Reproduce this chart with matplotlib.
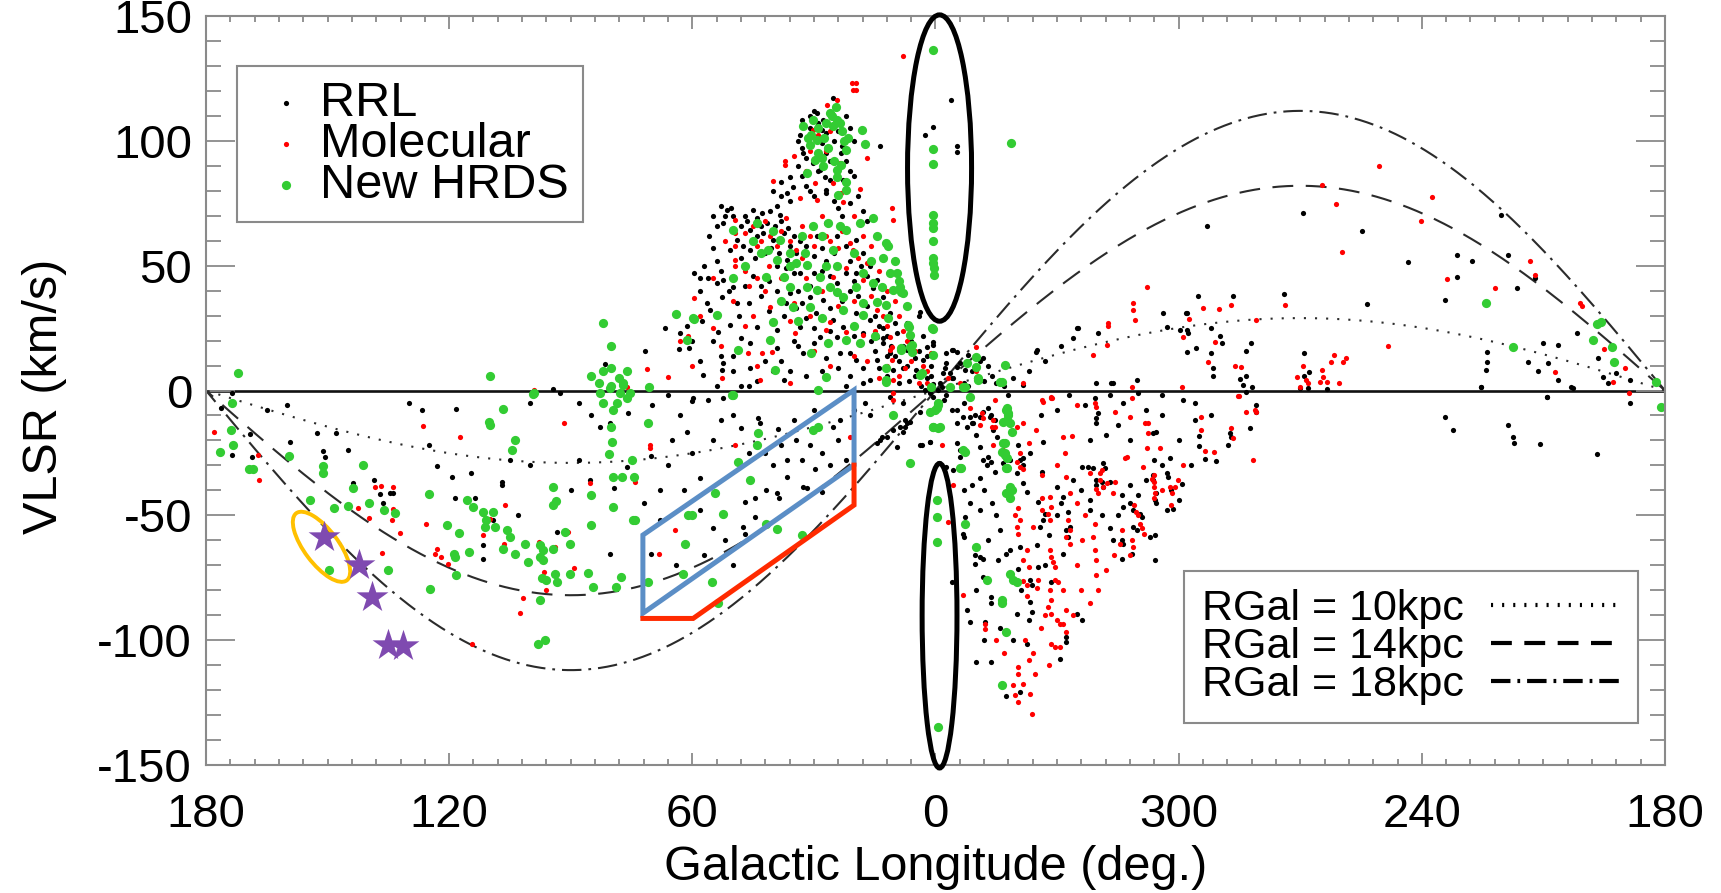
import numpy as np
import matplotlib
matplotlib.use('Agg')
import matplotlib.pyplot as plt
from matplotlib.patches import Ellipse, Polygon
from matplotlib.lines import Line2D
from matplotlib.transforms import ScaledTranslation

plt.rcParams['font.family'] = ['Liberation Sans', 'DejaVu Sans']
plt.rcParams['lines.scale_dashes'] = False
plt.rcParams['axes.unicode_minus'] = False

# points as (galactic longitude [deg], VLSR [km/s])
rrl_pts = [
    (94.3, 0.6), (92.7, -1), (81.6, 10.5), (71.7, 15.7), (66.8, 25.1), (59.6, 47), (63.0, 23), (61.3, 26),
    (63.2, 16.6), (60.8, 17.2), (356.2, 116.5), (0.7, 105.4), (2.6, 102.5), (354.8, 98), (354.8, 95.4),
    (25.2, 117), (24.4, 113), (33, 108.5), (33.4, 102.5), (31, 109.8), (29.3, 111.1), (27.7, 108.5),
    (28.1, 104.5), (26.9, 103.1), (32.6, 95.1), (30.2, 91.1), (28.5, 88.4), (27.3, 85.7), (26, 84.4),
    (35.9, 85.7), (35.1, 81.7), (38, 83.7), (36.7, 79), (13.7, 98), (23.2, 95.1), (22.8, 84.4), (26.9, 80.4),
    (56.1, 45), (54, 43), (52.4, 44.3), (49.9, 41.6), (52.8, 37.6), (56.5, 35), (55.6, 32.3), (50.7, 26.3),
    (53.6, 23.6), (45.8, 18.9), (52.4, 10.9), (52.8, 8.2), (57.3, 6.2), (45.8, 8.9), (37.5, 4.2), (16.2, 4.2),
    (32.6, 14.9), (23.6, 14.9), (19.5, 12.2), (14.5, 12.2), (11.2, 14.9), (10.4, 8.2), (8, 8.9), (4.7, 8.2),
    (3, 12.2), (0.5, 19.6), (357.3, 14.9), (355.6, 16.2), (354.8, 9.6), (358.1, 6.9), (338.3, 2.2),
    (335.1, 15.6), (325.2, 24.9), (316.1, 2.9), (310.4, 4.2), (303, 25.6), (299.7, 24.2), (298.1, 30.9),
    (303.8, 30.9), (51.5, 72.4), (49.9, 69.7), (45, 72.4), (42.9, 71), (40.8, 71.7), (38.4, 70.4), (52.4, 67),
    (45.8, 64.4), (44.1, 61.7), (42.5, 63), (40, 60.3), (37.5, 63), (35.9, 57.7), (34.3, 55), (45.8, 56.3),
    (49.1, 60.3), (50.7, 56.3), (36.7, 52.3), (39.2, 49.7), (33.4, 47), (29.3, 61.7), (26.9, 67), (24.4, 61.7),
    (19.5, 60.3), (17.8, 55), (16.2, 49.7), (19.5, 47), (24.4, 43), (27.7, 36.3), (31, 37.6), (35.9, 39),
    (14.5, 44.3), (12.9, 37.6), (11.2, 31), (16.2, 28.3), (19.5, 31), (22.8, 25.6), (25.2, 28.3), (28.5, 21.6),
    (33.4, 25.6), (39.2, 24.3), (44.1, 25.6), (14.5, 21.6), (12.9, 18.9), (9.6, 22.9), (7.1, 16.2), (17.8, 22.9),
    (21.1, 14.9), (24.4, 21.6), (53, 74), (52, 70), (50.5, 73), (48, 66), (47, 70), (46.5, 68), (44, 69),
    (43, 66), (41.5, 67), (39.5, 66), (38, 68), (36.5, 65), (35, 62), (33.5, 60), (32, 58), (47.5, 58),
    (48, 53), (44.5, 53), (42, 55), (40.5, 57), (38.5, 55), (37, 49), (35, 47), (31.5, 50), (30, 54), (28, 57),
    (27, 52), (25, 55), (22, 58), (21, 52), (18.5, 50), (17, 46), (15.5, 41), (21, 40), (23, 36), (26, 33),
    (29.5, 31), (32, 29), (34.5, 33), (37.5, 30), (41, 32), (43, 38), (46, 35), (48.5, 30), (58, 40),
    (57.5, 28), (55, 20), (50, 14), (48, 21), (42, 12), (39, 17), (35, 20), (30, 19), (27, 13), (24, 9), (21, 6),
    (18, 9), (15, 16), (13, 25), (10, 27), (9, 12), (6, 20), (5, 13), (6.5, 4), (9, 3), (12, 6), (2, 5), (1, 10),
    (3.5, 2), (359, 3), (357.5, 11), (356, 5), (353, 3), (351, 8), (349, 12), (348, 4), (346, 6), (343, 2),
    (358.5, 1.5), (0.5, 2.5), (7, 27), (4, 30),
    (34, 100), (33, 97), (32, 93), (31, 105), (30, 112), (29, 107), (28, 99), (27, 95), (26, 92), (25, 100),
    (24, 104), (23, 98), (22, 92), (21, 88), (20, 86), (22, 110), (21, 105), (20, 100), (34, 90), (33, 86),
    (32, 82), (31, 80), (30, 78), (29, 88), (27, 79), (25, 76), (24, 73), (23, 70), (21, 75), (19, 78),
    (18, 72), (17, 68), (36, 76), (38, 78), (40, 80), (39, 74),
    (55, 70), (54, 66), (56, 62), (55, 57), (57, 50), (58, 45), (54, 52), (53, 48), (51, 40), (49, 35),
    (47, 42), (45, 46), (43, 42), (41, 44), (39, 40), (37, 35), (36, 42), (34, 40), (33, 35), (31, 42),
    (30, 47), (28, 48), (26, 46), (24, 50), (22, 47), (20, 44), (19, 38), (17, 34), (15, 30), (14, 26),
    (12, 22), (11, 18), (10, 14), (8, 18), (7, 10), (5, 6), (4, 16), (3, 22), (2, 14), (1, 6), (12, 14),
    (16, 20), (20, 22), (26, 24), (30, 25), (34, 18), (38, 12), (40, 8), (44, 4), (48, 2), (54, 2), (58, 12),
    (60, 20), (53, 14), (50, 8), (46, 2), (36, 8), (32, 6), (28, 8), (22, 2), (18, 3), (14, 9), (352, 2),
    (350, 5), (347, 10), (345, 3), (341, 5), (337, 8), (333, 12), (329, 18), (326, 21), (320, 23),
    (293.1, 66), (269.4, 71), (254.7, 64), (243.3, 51.5), (231.4, 54.1), (227.7, 51.8), (231.2, 45.5),
    (234.3, 36.3), (253.6, 34.8), (220.5, 70.1), (218.7, 54.2), (216.6, 41.2), (212.1, 45), (201.6, 22.9),
    (210, 18.9), (206.4, 18.3), (213.8, 11.6), (208.8, 11.2), (211.3, 7.8), (206.5, 4.2), (196.5, 12.9),
    (195.4, 5.3), (194, 2.9), (192, 6.9), (188.7, 4.2), (225.4, 1.5), (224, 15.6), (224, 11.6), (224.2, 8.2),
    (202.8, 1), (209, -2.5), (295.2, 37.9), (286.5, 37.9), (274, 38.8), (298, 31), (298, 24.3), (297.6, 23),
    (298, 15.6), (295.8, 16.9), (291.9, 24.9), (289.8, 22), (289.2, 18.9), (282.2, 18.9), (283.3, 15.8),
    (291.9, 14.9), (291.5, 8.9), (291.5, 5.8), (284.9, 4.5), (283.3, 5.8), (284.2, 2.2), (282, 1.5),
    (269, 14.9), (269.1, 5.8), (267.8, 7.6), (270.1, 0.9), (268, 0.9), (263.5, 0.6),
    (173.7, -1.1), (176.4, -7.2), (169.1, -17.4), (173.7, -25.9), (168.7, -26.8), (159.9, -5.8),
    (159.3, -20.5), (152.7, -17.2), (147.8, -16.9), (151.1, -24.1), (150.6, -26.8), (143.7, -37.2),
    (138.6, -35.9), (137.1, -41.6), (134.6, -41.2), (133.8, -41.2), (136.3, -45), (126.8, -7.8), (118.3, -7.4),
    (123.1, -30.1), (119.4, -34.8), (114.7, -33.2), (118.6, -43), (113.6, -43), (107, -36.6), (107, -37.9),
    (111.6, -49.3), (109.1, -52), (111.6, -62), (111.7, -67.3), (102.9, -49.9), (93.5, -56.6), (85.3, -35.9),
    (82.8, -14.5), (84.9, -9.8), (80.3, -13.2), (75.8, -9.2), (76.2, -30.8), (70.2, -26.3), (79.3, -39.2),
    (80.3, -65.6), (70.1, -65.3), (63, -9.8), (61.3, -16.5), (60, -4.1),
    (60, -25), (58, -35), (55, -20), (53, -12), (50, -10), (48, -15), (46, -25), (42, -25), (40, -30),
    (38, -22), (35, -12), (33, -28), (31, -22), (30, -8), (28, -25), (26, -30), (24, -20), (22, -28), (20, -8),
    (65, -20), (68, -40), (72, -45), (66, -30), (62, -40), (58, -48), (55, -55), (52, -60), (50, -70),
    (57, -66), (64, -70), (68, -52), (88, -28), (90, -40), (100, -30), (105, -28), (125, -22), (145, -24),
    (165, -8), (130, -5), (100, -5), (88, -5), (70, -6), (66, -2),
    (59.8, -3.1), (56.1, -3.8), (52.4, -3.1), (43.7, -11.2), (43.3, -13.2), (38.8, -15.6), (36.7, -27.9),
    (34.3, -19.9), (29.7, -31.6), (36.7, -34.6), (41.7, -39.9), (39.2, -41.2), (38.5, -43.2), (44.5, -43.2),
    (47, -44.6), (44.5, -50.6), (47.4, -54.6), (47, -57.3), (32.6, -38.6), (31.8, -39.2), (28.1, -40.6),
    (25.2, -14.5), (23.6, -11.8), (17.4, -5.2), (16.2, -9.8), (11.2, -2.5), (8, -5.2), (7.1, -13.2),
    (7.5, -14.5), (6.3, -12.5), (3.8, -8.5), (3.8, -21.9), (1.4, -20.5), (14.5, -21.2), (13.7, -19.9),
    (13.3, -18.5), (10.4, -15.8), (354.8, -13.2), (354.8, -21.2), (354, -23.9), (350.7, -13.2), (351.5, -10.5),
    (350.3, -9.8), (348.2, -8.5), (346.6, -10.5), (345.7, -15.8), (344.9, -18.5), (349, -22.5), (348.2, -27.9),
    (346.2, -28.5), (343.3, -29.2), (341.6, -27.9), (339.6, -21.9), (338.3, -27.2), (336.7, -25.2),
    (333.4, -20.5), (355.6, -31.9), (351.5, -45.2), (352.7, -50.6), (353.1, -57.3), (353, -58.6), (356, -76.7),
    (350.3, -66), (350.3, -69.3), (349, -66.6), (348.2, -67.3), (348.2, -74.6), (346.2, -82.7), (346.2, -85.3),
    (352.3, -88), (351.5, -92.7), (347.8, -92.7), (349.9, -108.7), (346.2, -108.7), (342.5, -122.5),
    (339.2, -120.8), (344.5, -68), (342.5, -65.3), (341.6, -64), (339.2, -62.6), (339.6, -71.3), (336.7, -76),
    (336.3, -78), (336.7, -84.7), (340, -89.4), (336.3, -88.7), (337.5, -101.4), (338.3, -37.2),
    (337.5, -40.6), (334.6, -44.6), (333.8, -32.5), (330.1, -38.6), (334.2, -54.6), (334.6, -70.6),
    (331.4, -76.7), (328.5, -65.3), (325.2, -89.4), (323.9, -92), (327.7, -100.7), (329.3, -107.4),
    (327.7, -98.7), (328.5, -42.6), (327.2, -48.6), (326.8, -54.6), (321.9, -43.9), (320.3, -37.9),
    (320.3, -13.2), (320.3, -11.2), (319.8, -9.2), (320.7, -3.1), (323.9, -30.5), (322.3, -30.5),
    (321.1, -31.2), (318.6, -29.2), (318.2, -31.2), (320.3, -35.9), (319, -36.6), (317, -36.6), (318.6, -38.6),
    (313.7, -5.2), (320.3, 2.9), (316.6, 2.9), (313.7, -46.6), (312.1, -45.2), (311.2, -47.9), (309.6, -49.3),
    (309.1, -50.6), (311.2, -54.6), (310.4, -55.9), (314.1, -60), (313.7, -61.3), (316.1, -60), (314.1, -67.3),
    (311.6, -65.3), (307.1, -58.6), (305.9, -58), (306.3, -33.9), (306.3, -35.9), (305.5, -41.2),
    (305.9, -43.9), (305.5, -45.2), (303, -33.2), (302.6, -34.6), (302.2, -27.2), (301.3, -47.3),
    (305.5, -16.5), (306.3, -17.2), (305.9, -68), (327.7, -55.9), (327.2, -58.6), (333.4, -52), (333, -49.3),
    (358, -4), (356, -8), (353, -5), (350, -18), (349, -35), (348, -40), (346, -45), (345, -50), (344, -56),
    (347, -60), (349, -48), (351, -38), (353, -40), (350, -80), (348, -100), (344, -95), (341, -100),
    (339, -80), (337, -92), (335, -62), (333, -70), (332, -58), (330, -50), (329, -45), (326, -36), (324, -40),
    (322, -48), (319, -50), (317, -55), (315, -50), (314, -42), (312, -38), (310, -42), (308, -36), (306, -28),
    (304, -30), (302, -40), (300, -44), (303, -48), (322, -20), (318, -18), (315, -14), (312, -20), (308, -8),
    (304, -10), (300, -20), (297, -30), (296, -12), (330, -8), (334, -10), (342, -2), (327, -2), (323, -6),
    (317, -2), (310, -1), (304, -2), (299, -4), (296, -5), (292, -10),
    (3.8, 31.6), (12.9, 20.9), (2.2, 17.6), (0.5, 18.2), (356, 16.2), (354.8, 15.6), (357.7, 8.9),
    (356.4, 6.9), (355.6, 4.9), (354, 10.9), (352.7, 8.2), (2.6, 0.2), (1.4, -1.1), (0.5, -2.5), (359.3, 0.2),
    (357.3, -1.8), (7.5, -11.8), (8.8, -14.5), (7.9, -16.5), (12, -18.5), (9.6, -22.5), (354.8, -7.8),
    (353.1, -10.5), (352.3, -14.5), (351.1, -13.2), (349, -10.5), (347, -7.2), (346.2, -9.8), (345.3, -11.8),
    (347, -26.5), (347.4, -29.9), (345.3, -32.5), (339.2, -27.9), (338.3, -29.9), (340, -33.2), (354, -26.5),
    (357.3, -30.5), (1.4, -20.5), (3.4, -21.8), (348.2, 12.9), (351.9, 14.2), (335, 16.2), (324.8, 24.9),
    (283.3, -0.5), (280.8, -5.8), (281, -8.5), (282.4, -15.2), (287.4, -17.2), (287, -18.5), (287.8, -21.9),
    (294.9, -18.3), (294.9, -22.3), (293.5, -27.5), (290.8, -28.3), (299.3, -37.5), (234.2, -10.8),
    (232.4, -15.8), (218.7, -13.8), (217.5, -18.8), (217.3, -21.2), (210.9, -21.3), (196.9, -25.5),
    (209.1, -2.5), (188.7, -5.1), (225.3, 1.5), (203.1, 1.3),
]

mol_pts = [
    (71.3, 8.6), (66.1, 5.4), (63, 19.7), (61, 22), (99, 0.2), (7.9, 134), (20.5, 123), (19.5, 123),
    (20.3, 120.2), (19.5, 120.2), (26.7, 114.5), (24.4, 116.5), (30.2, 104.5), (28.9, 102.5), (23.6, 91.1),
    (25.2, 83.1), (23.2, 79), (22.8, 75.7), (37.1, 91.8), (37.1, 90.5), (40, 84.1), (33.4, 77), (29.3, 76.4),
    (18.6, 80.7), (17, 93.1), (29.7, 83.1), (49.5, 68.4), (49.5, 63), (49.5, 57.7), (49.5, 52.3), (49.5, 49.7),
    (40.8, 61.7), (39.2, 57.7), (35.9, 55), (34.3, 56.3), (21.1, 59), (20.3, 56.3), (17, 51), (10.8, 73),
    (10.4, 68.4), (40.8, 33.6), (26.1, 27.6), (26.9, 24.3), (22, 23.6), (17.8, 22.3), (11.2, 21.6),
    (10.8, 17.5), (14.5, 32.3), (17.8, 44.3), (25.2, 45.6), (42.9, 14.9), (46.2, 14.9), (43.3, 4.2),
    (52.8, 4.9), (10.4, 4.2), (59.6, 37), (34.7, 23), (40.4, 15.6), (45, 66), (43, 60), (38, 64), (36, 60),
    (33, 66), (31, 62), (28, 70), (26, 60), (23, 64), (20, 70), (18, 62), (47, 48), (44, 45), (41, 50), (38, 45),
    (32, 45), (28, 40), (24, 34), (20, 36), (16, 38), (13, 30), (12, 26), (8, 24), (6, 12), (4, 3), (31, 30),
    (35, 35), (45, 30), (50, 36), (55, 25), (12, 10), (14, 5), (9, 6), (2, 8),
    (52, 60), (47, 63), (44, 58), (42, 68), (37, 69), (33, 53), (30, 58), (27, 62), (24, 57), (22, 49),
    (19, 53), (16, 58), (14, 48), (12, 40), (10, 36), (9, 30), (7, 20), (5, 16), (3, 10), (2, 3), (1, 15),
    (357, 5), (354, 3), (350, 8), (46, 42), (42, 40), (36, 28), (30, 16), (26, 10), (20, 14), (17, 12),
    (15, 24), (55, 45), (58, 30), (47, 26), (53, 18), (60, 10), (44, 10), (36, 3), (32, 88), (27, 96),
    (26, 104), (31, 96), (35, 94),
    (307.9, 41.6), (311.2, 35), (311.2, 32.3), (317.4, 27), (317.4, 25.7), (310.8, 28.3), (317.8, 18.3),
    (321.1, 14.2), (311.6, 1.5), (331.4, -2.5),
    (250.6, 90), (264.6, 82.3), (261.1, 74.8), (259.6, 55.4), (240.3, 68), (237.4, 77.7), (233.9, 44.5),
    (222, 41), (213.2, 52), (212.1, 46.3), (201, 35), (200.4, 34), (195, 16.5), (189.9, 9.2), (207.2, 7.6),
    (188.8, -1.1), (192.8, 3.5), (248.3, 17.8), (280.8, 28.3), (273.8, 34.3), (287, 34.3), (290, 32.6),
    (294, 33), (297.4, 28.6), (298.9, 21.6), (291, 19.6), (292.7, 11.6), (286.1, 9.8), (284.5, 9.6),
    (285.3, -2.2), (299.3, 1.5), (270.9, 5.3), (269.3, 10), (268.6, 4.2), (264.7, 8.2), (264.3, 5.6),
    (265.2, 3.6), (263.5, 3.6), (262.3, 11.6), (261.7, 14.2), (260.4, 2.9), (259.4, 11.6), (258.8, 12.9),
    (270.1, 1.5), (268.2, 2.9),
    (178, -16.5), (166.8, -35.9), (167.1, -25.9), (138.3, -38.6), (136.7, -38.3), (133.8, -38.8),
    (142.4, -47), (139.9, -50.9), (134.2, -51.7), (133.9, -47.3), (132.1, -57), (136.5, -64.9),
    (126.5, -14.1), (117.3, -18.8), (125.6, -53.5), (123.1, -63.3), (123.5, -65.3), (122.1, -66.6),
    (120.2, -69.3), (114.3, -101.4), (111.6, -58), (109.9, -51.3), (106.2, -45.9), (106.4, -61.3),
    (97.8, -60.6), (93.9, -62.6), (90.6, -56.6), (89.2, -70.9), (101.9, -83.3), (102.4, -89), (96, -80),
    (96.5, -72.6), (91.6, -13.2), (85.3, -37.2), (74.2, -36.6), (70.5, -21.9), (70.5, -23.2), (64.3, -56),
    (68.2, -65.6), (76.2, 1.5),
    (338.3, -13.2), (333.8, -3.8), (331.4, -3.1), (325.2, -5.8), (320.3, -6.5), (320.7, -5.2), (315.7, -8.5),
    (311.6, -3.1), (312.1, -10.5), (308.3, -13.2), (307.5, -13.2), (307.5, -17.2), (304.6, -23.2),
    (307.9, -23.2), (312.8, -26.5), (313.3, -27.2), (308.7, -30.5), (306, -34), (306, -36.5), (306.2, -38.5),
    (305.8, -41), (306, -43), (306.5, -35.5), (302.2, -38.6), (301.7, -41.2), (300.9, -38.6), (300.1, -35.9),
    (318.6, -38.6), (317.8, -37.2), (319.3, -35.9), (319.8, -41.2), (320.5, -39.5), (316.1, -41.2),
    (315.7, -36.6), (311, -46), (310.6, -48.5), (310, -50), (309.5, -53.5), (309, -55), (308.6, -57.5),
    (314.5, -61.3), (311.6, -60), (311.2, -62.6), (323.9, -60), (320.7, -53.3), (321.1, -58.6), (320.7, -64),
    (320.3, -68), (320.3, -74), (319.4, -33.2), (319, -31.9), (321.9, -33.2), (327.7, -34.6), (326.8, -41.2),
    (327.2, -51.9), (326.8, -55.9), (327.7, -58.6), (326.8, -61.3), (331.8, -42.6), (331.4, -46.6),
    (332.2, -49.3), (331.8, -52), (331.8, -64), (331.4, -66.6), (331, -68.6), (330.6, -70.6), (330.6, -76),
    (329.7, -76.7), (331.8, -80), (331.4, -84), (332.2, -86.7), (331.4, -89.4), (330.1, -92), (329.3, -93.4),
    (328.5, -93.4), (331.4, -101.4), (330.6, -102.7), (329.3, -102.7), (327.7, -88), (327.7, -96.7),
    (328.5, -80), (335.9, -54.6), (337.5, -64), (338.3, -68), (337, -70.6), (334.6, -76), (335, -79),
    (338.3, -76.5), (337.5, -78), (337.5, -82.5), (339.2, -52), (340, -54.6), (339.6, -57.5), (339.6, -47),
    (340.4, -50), (333.8, -43), (333.8, -48), (339.6, -110.7), (339.6, -113.4), (335.5, -113.4),
    (338.3, -117.4), (336.7, -121.4), (340.4, -122.1), (339.6, -124.8), (336.3, -129.5), (347.8, -93.4),
    (347.8, -95.4), (353.1, -82), (356.8, -52.6), (355.6, -37.9), (348.6, -9.2), (348.2, -11.2),
    (345.7, -11.8), (345.3, -14.5), (342.5, -12.5), (341.6, -13.2), (333.4, -4.5), (335.1, -15.8),
    (343.3, -23.9), (342.9, -30.5), (339.2, -30.5), (338.3, -31.5), (339.8, -14.5), (337, -21),
    (330, -30), (328, -25), (325, -45), (323, -50), (325, -70), (324, -80), (333, -90), (334, -95),
    (336, -105), (338, -100), (337, -108), (332, -110), (341, -118), (345, -100), (343, -105), (326, -90),
    (322, -85), (320, -80), (318, -72), (316, -66), (314, -56), (312, -66), (302, -46), (299, -30), (304, -40),
    (49.5, -21.9), (21.1, -18.5), (10.4, -3.8), (358.5, -21.9), (338.3, 2.9),
    (10.8, 12.2), (11.2, 16.2), (10.4, -1.1), (7.5, 8.9), (349.9, 17.6), (351.5, -7.2), (345.3, -3.8),
    (346.1, -14.5), (345.7, -21.9), (349, -13.8), (331.3, -3.2), (339.2, -25.2), (340, -28.5),
    (328.5, -18.5), (326.4, -18.3), (333.8, -33.9),
    (294.6, -10.8), (294.6, -15.8), (293.5, -24.3), (291.2, -24.5), (287, -15.2), (286.5, -19.2),
    (283.3, -8.5), (281.2, -7.8), (280.8, -8.5), (281.6, -27.9), (285.1, -2.1),
]

hrds_pts = [
    (172, 7), (110, 6), (82, 27), (80, 18), (85, 6), (82, 8), (80, 9), (78, 5), (77, 3), (80, 2), (83, 3),
    (76, 8), (64, 30.7), (59.5, 28.7), (61.4, 20.2), (70.7, 1.5), (99, -1),
    (0.5, 136.3), (0.5, 96.7), (0.5, 90.7), (0.5, 70.4), (0.5, 67), (0.5, 65), (0.5, 60), (0.5, 53),
    (0.5, 51), (0.3, 49), (0.3, 46.3), (0.5, 24.5), (0.5, 14.2), (341.4, 99),
    (24.6, 113.5), (25.6, 109.8), (24.4, 108.5), (25.2, 105.8), (23.6, 107.1), (32.6, 105.8), (30.2, 108.5),
    (30.6, 102.5), (29.3, 100.4), (31, 98.4), (28.9, 95.1), (29.7, 92.4), (31.8, 87.1), (27.7, 89.8),
    (24.4, 85.7), (22, 83.7), (21.5, 101.1), (22, 96.4), (24.4, 88.4), (23.2, 90.4), (18.1, 104.5),
    (17.4, 98.7), (22, 80.4), (24, 78.4), (26, 111), (27, 107), (23, 104), (22.5, 100), (26.5, 97), (28, 93),
    (31.5, 101), (29, 105), (27.5, 101), (25, 92),
    (49.9, 64.4), (44.1, 67), (41.3, 56.3), (38.4, 60.3), (39.2, 52.3), (35.9, 49.7), (34.3, 51), (32.2, 55),
    (30.2, 65.7), (26.5, 67), (23.6, 65.7), (22, 64.4), (18.6, 67), (15.4, 69), (14.5, 61.7), (12.1, 59),
    (11.7, 57.7), (25.2, 56.3), (24.4, 49.7), (31.8, 50.3), (28.5, 45.6), (37.5, 45.6), (41.7, 45.6),
    (35.9, 41.6), (31.8, 41.6), (26.1, 41.6), (24.4, 39.6), (29.3, 40.3), (22.8, 37.6), (19.5, 41.6),
    (17.8, 34.9), (15.4, 43), (13.3, 41.6), (11.2, 47), (9.6, 47), (8.8, 41.6), (8, 39), (54, 30.3),
    (59.8, 29), (40, 27.6), (35.1, 33.6), (31, 33.6), (28.1, 29), (22.8, 32.3), (17.8, 30.3), (14.5, 35.6),
    (12.1, 34.3), (11.7, 29), (22, 20.2), (18.6, 18.9), (26.5, 18.9), (30.6, 14.9), (39.6, 8.2), (26.9, 5.6),
    (48.7, 16.2), (40.8, 20.2), (6.7, 26.3), (6.3, 22.3), (8.4, 17), (6.3, 17.5), (349.9, 13.6), (349.9, 9.6),
    (342.9, 10.2), (344.1, 3.6), (349.4, 4.2), (353.1, 1.5), (49.9, -1.8), (28.9, 0.2), (12.1, 3.6),
    (3.4, 6.9), (352.3, 10.9),
    (45, 60), (43, 55), (40, 64), (36, 55), (33, 62), (28, 62), (27, 50), (20, 55), (18, 47), (16, 52),
    (13, 53), (10, 52), (9, 44), (7, 34), (47, 50), (50, 45), (38, 36), (34, 28), (20, 26), (15, 22),
    (6.5, 25.6), (0.95, 24.9), (5.9, 18.2), (5.9, 15.6), (8.4, 16.2), (12.1, 8.9), (12.1, 4.2), (3.8, 6.2),
    (1, 1.5), (356.4, 1.5), (352.7, 1.5), (351.5, -2.5), (349.4, 4.9), (343.7, 3.5), (359.3, -5.8),
    (0.1, -7.8), (0.5, -14.5), (358.9, -14.5), (10.4, -9.8), (6.3, -29.2), (342.4, -7.2), (342, -9.8),
    (342.4, -11.8), (341.2, -16.5), (343.3, -21.2), (342.9, -25.2), (342.4, -27.2), (352.7, -24.5),
    (354, -31.2), (342.4, -31.2), (8.4, 39.6), (10.4, 40.3),
    (224.2, 35.2), (217.5, 17.6), (197.7, 20.2), (196.9, 26.7), (195.7, 27.6), (193, 17.6), (192.6, 11.6),
    (182.3, 3.6), (181, -6.7),
    (173.7, -4.9), (173.9, -15.8), (173.4, -21.8), (176.5, -24.5), (169.3, -31.6), (168.3, -31.6),
    (159.4, -26.3), (151.1, -30.3), (151.1, -33), (141.2, -29.9), (143.8, -39.2), (148.4, -47.2),
    (154.3, -43.9), (144.9, -46.3), (139.9, -45.2), (136.1, -47.9), (133.4, -49), (149.6, -71.7),
    (135.2, -72), (124.7, -79.7), (125, -41.6), (120.5, -53.7), (117.6, -57), (115.7, -43.9), (114.1, -46.6),
    (115.1, -64.6), (118.4, -74), (118.8, -65.3), (118.6, -66.5), (111.7, -48.6), (110.8, -51.9),
    (109.1, -48.6), (111.2, -54.6), (108.7, -54.6), (105.8, -55.9), (105, -58.6), (106.8, -63.3),
    (103.8, -65.3), (101.3, -61.3), (100.5, -68.6), (97.6, -62), (96.8, -64), (97.6, -66.6), (96.8, -68),
    (97.2, -75.3), (96, -76), (93.5, -76.7), (93.9, -73.3), (90.2, -73.3), (90.2, -61.3), (94.3, -63.3),
    (91.4, -56.6), (97.6, -84), (98, -101.4), (96.4, -99.8), (85.7, -73), (84.5, -78.7), (78.9, -78.7),
    (77.7, -74.6), (70.9, -76.7), (61.8, -61.3), (61, -49.7), (62.2, -73.3), (79.5, -46.6), (74.6, -52),
    (74.2, -51.7), (84.9, -54), (84.9, -41.9), (79.5, -34.5), (74.3, -34.5), (77.4, -34.5), (75, -27.9),
    (80.5, -25.5), (79.8, -20.5), (80.1, -14.5), (70.9, -13.2), (94.5, -38.6), (93.7, -44.2), (94.3, -45.9),
    (103.8, -19.9), (104.6, -23.9), (106.8, -7.6), (110.1, -12.5), (109.9, -13.8), (99.2, -1.4), (82, -5.1),
    (79.5, -7.8), (78.7, -5.1), (76.2, -3.1), (82.8, -1.1), (77.9, -1.1), (75.4, -1.1), (80.3, 0.9),
    (77.1, 2.2),
    (50.3, -1.8), (43.7, -17.2), (44.1, -21.9), (48.7, -28.5), (45.8, -35.9), (54.4, -41.2), (52.4, -49.3),
    (60.2, -50), (30.2, -15.8), (28.9, -14.5), (41.7, -53.3), (39.2, -55.3), (33, -58), (55.2, -76.7),
    (53.6, -85.3), (1.4, -8.5), (359.7, -7.2), (0.6, -14.5), (359.3, -15.2), (359.3, -5.2), (359.7, -43.9),
    (359.7, -50.6), (359.7, -60.6), (359.3, -134.8), (352.7, -53.3), (353.1, -23.9), (353.6, -31.2),
    (349.9, -62.6), (347.4, -76), (341.6, -73.3), (340.8, -76), (340, -76.7), (343.7, -84), (343.7, -85.3),
    (342.5, -96.7), (343.7, -118.1), (342.5, -7.8), (342.1, -9.2), (341.6, -13.2), (343.3, -12.5),
    (342.9, -21.2), (343.7, -24.5), (342.9, -25.9), (342.5, -31.2), (341.6, -38.6), (341.2, -39.9),
    (342.5, -41.2), (341.6, -43.2),
]

star_pts = [(150.9, -58.6), (142.2, -69.7), (139.1, -82.7), (135.2, -102), (131.3, -102.3)]

# model curves: VLSR amplitude at l = 90/270 for each galactocentric radius
rgal_kpc = [10, 14, 18]
rgal_amp = [29, 82, 112]
rgal_dash = [(0, (1.5, 6.5)), (0, (15, 9)), (0, (14, 5, 2, 5))]

# hand-drawn annotations (l, v)
blue_box = [(72.2, -57.9), (20.1, 0.2), (20.1, -29.9), (72.2, -89.2)]
red_edge = [(20.1, -29.9), (20.1, -45.9), (59.8, -91.3), (72.2, -91.3)]
gc_ellipses = [((359.0, 89.1), 15.8, 122.7), ((359.0, -90.2), 8.6, 122.0)]
gold_ellipse = (151.5, -62.6)

xticks = [180, 120, 60, 0, -60, -120, -180]
xticklabels = ['180', '120', '60', '0', '300', '240', '180']


def to_x(lon):
    lon = np.asarray(lon, float)
    return np.where(lon > 180, lon - 360, lon)


W, H = 1721, 893
fig = plt.figure(figsize=(W / 100, H / 100), dpi=100)
ax = fig.add_axes([206 / W, 128 / H, 1459 / W, 749 / H])
ax.set_xlim(180, -180)
ax.set_ylim(-150, 150)

ax.axhline(0, color='#111111', lw=1.9, zorder=1.5)

rrl = np.array(rrl_pts)
mol = np.array(mol_pts)
hrds = np.array(hrds_pts)
h_rrl = ax.scatter(to_x(rrl[:, 0]), rrl[:, 1], s=14, c='black', linewidths=0, zorder=2, label='RRL')
h_mol = ax.scatter(to_x(mol[:, 0]), mol[:, 1], s=14, c='#ff0000', linewidths=0, zorder=2.1, label='Molecular')
h_hrds = ax.scatter(to_x(hrds[:, 0]), hrds[:, 1], s=44, c='#33cc33', linewidths=0, zorder=2.2,
                    label='New HRDS')

lon = np.linspace(0, 360, 1441)
order = np.argsort(to_x(lon))
curve_handles = []
for r, amp, ls in zip(rgal_kpc, rgal_amp, rgal_dash):
    v = -amp * np.sin(np.radians(lon))
    ax.plot(to_x(lon)[order], v[order], color='#2b2b2b', lw=1.5, linestyle=ls, zorder=1.8)
    curve_handles.append(Line2D([], [], color='black', lw=3, linestyle=ls, label=f'RGal = {r}kpc'))

# annotations
for (l0, v0), w, h in gc_ellipses:
    ax.add_patch(Ellipse((to_x(l0), v0), w, h, fill=False, ec='black', lw=3.6, zorder=4, clip_on=False))
box = np.array(blue_box)
ax.add_patch(Polygon(np.column_stack([to_x(box[:, 0]), box[:, 1]]), closed=True, fill=False,
                     ec='#5b8ec6', lw=3.6, joinstyle='miter', zorder=4))
red = np.array(red_edge)
ax.plot(to_x(red[:, 0]), red[:, 1], color='#ff2a00', lw=3.6, solid_joinstyle='miter', zorder=4.1)
ax.add_patch(Ellipse((0, 0), 0.84, 0.34, angle=-53, fill=False, ec='#ffc000', lw=2.8, zorder=4,
                     transform=fig.dpi_scale_trans + ScaledTranslation(gold_ellipse[0], gold_ellipse[1],
                                                                        ax.transData)))
st = np.array(star_pts)
ax.scatter(to_x(st[:, 0]), st[:, 1], marker='*', s=580, c='#7f4ab0', linewidths=0, zorder=5)

# axes styling
ax.set_xticks(xticks)
ax.set_xticklabels(xticklabels)
ax.set_xticks(np.arange(-180, 181, 6), minor=True)
ax.set_yticks([-150, -100, -50, 0, 50, 100, 150])
ax.set_yticks(np.arange(-150, 151, 10), minor=True)
ax.tick_params(which='both', direction='in', top=True, right=True, color='#8a8a8a', width=1.3,
               labelsize=34)
ax.tick_params(axis='x', which='major', length=9, pad=20)
ax.tick_params(axis='x', which='minor', length=4)
ax.tick_params(axis='y', which='major', length=21, pad=10)
ax.tick_params(axis='y', which='minor', length=11)
for sp in ax.spines.values():
    sp.set_color('#8a8a8a')
    sp.set_linewidth(1.5)

ax.set_xlabel('Galactic Longitude (deg.)', fontsize=35)
ax.set_ylabel('VLSR (km/s)', fontsize=35)
ax.xaxis.label.set_va('center')
ax.yaxis.label.set_va('center')
ax.xaxis.set_label_coords(0.5, -0.1375)
ax.yaxis.set_label_coords(-0.111, 0.492)

leg1 = ax.legend(handles=[h_rrl, h_mol, h_hrds], loc='upper left', bbox_to_anchor=(0.0212, 0.9333),
                 borderaxespad=0, fontsize=35, scatterpoints=1, handlelength=1.4, handletextpad=0.0,
                 borderpad=0.3, labelspacing=-0.08, fancybox=False, framealpha=1, edgecolor='#8a8a8a')
leg1.get_frame().set_linewidth(1.5)
ax.add_artist(leg1)
leg2 = ax.legend(handles=curve_handles, loc='lower right', bbox_to_anchor=(0.9815, 0.0561),
                 borderaxespad=0, fontsize=31, handlelength=3.0, handletextpad=0.63, markerfirst=False,
                 borderpad=0.42, labelspacing=-0.05, fancybox=False, framealpha=1, edgecolor='#8a8a8a')
leg2.get_frame().set_linewidth(1.5)

fig.savefig('out.png', dpi=100)
